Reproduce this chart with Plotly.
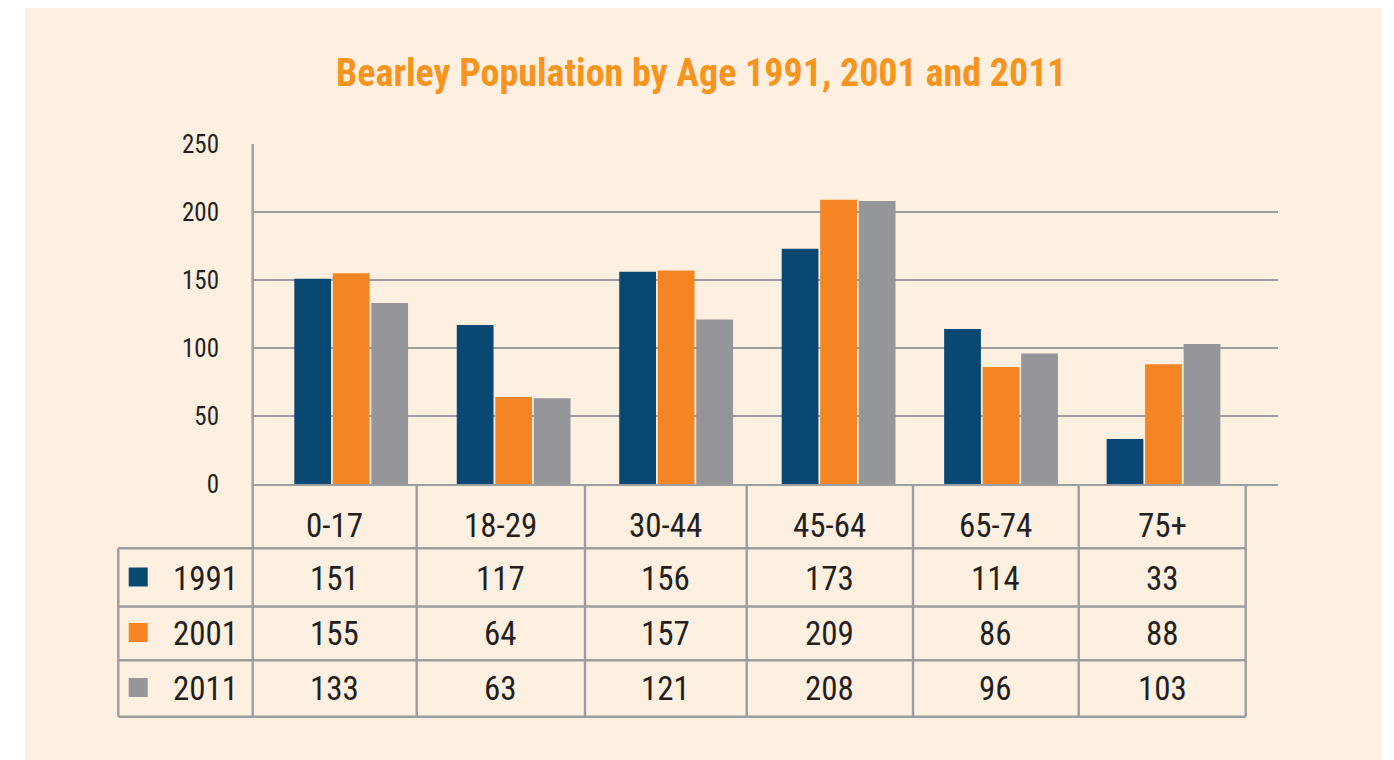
import plotly.graph_objects as go

# ---------------- data ----------------
age_groups = ["0-17", "18-29", "30-44", "45-64", "65-74", "75+"]
years = ["1991", "2001", "2011"]
pop_1991 = [151, 117, 156, 173, 114, 33]
pop_2001 = [155, 64, 157, 209, 86, 88]
pop_2011 = [133, 63, 121, 208, 96, 103]
y_ticks = [0, 50, 100, 150, 200, 250]
title_text = "Bearley Population by Age 1991, 2001 and 2011"

series = [pop_1991, pop_2001, pop_2011]
colors = ["#084872", "#F58522", "#959699"]

# ---------------- layout geometry (reference-window pixels) ----------------
REF_W, REF_H = 1394, 760
OFF = 8                                   # page body margin
W, H = REF_W - OFF, REF_H - OFF
PL, PR, PT, PB = 253, 1278, 144, 484      # plot area in window pixels
FONT = "Roboto Condensed, Liberation Sans Narrow, DejaVu Sans Condensed, Roboto, sans-serif"
TXT = "#231F20"
GRID = "#9B9DA0"

def xp(px):
    return (px - PL) / (PR - PL)

def yp(py):
    return (PB - py) / (PB - PT)

fig = go.Figure()
xs = list(range(len(age_groups)))
for yr, vals, col in zip(years, series, colors):
    fig.add_trace(go.Bar(x=xs, y=vals, name=yr, marker=dict(color=col, line=dict(width=0)),
                         hoverinfo="y", showlegend=False))

shapes = []
# cream panel
shapes.append(dict(type="rect", xref="paper", yref="paper", x0=xp(25), x1=xp(1382), y0=yp(0), y1=yp(REF_H + 5),
                   fillcolor="#FDF0E1", line=dict(width=0), layer="below"))

# table geometry
col_edges = [252.7, 416.7, 585, 746.7, 913, 1078.7, 1245.7]
row_edges = [484, 548.3, 606.5, 660.3, 716.7]
left_edge = 118.3
lw = 2.4

def hline(y, x0, x1):
    shapes.append(dict(type="line", xref="paper", yref="paper", x0=xp(x0), x1=xp(x1), y0=yp(y), y1=yp(y),
                       line=dict(color=GRID, width=lw), layer="above"))

def vline(x, y0, y1):
    shapes.append(dict(type="line", xref="paper", yref="paper", x0=xp(x), x1=xp(x), y0=yp(y0), y1=yp(y1),
                       line=dict(color=GRID, width=lw), layer="above"))

for ry in row_edges[1:]:
    hline(ry, left_edge, col_edges[-1])
vline(left_edge, row_edges[1], row_edges[-1])
vline(col_edges[0], PT, row_edges[-1])
for cx in col_edges[1:]:
    vline(cx, row_edges[0] + 1, row_edges[-1])

annotations = []
# title
annotations.append(dict(text=f"<b>{title_text}</b>", xref="paper", yref="paper", x=xp(701), y=yp(73),
                        xanchor="center", yanchor="middle", showarrow=False,
                        font=dict(family=FONT, size=38, color="#F7941D")))

# header row (age groups)
col_centers = [(a + b) / 2 for a, b in zip(col_edges[:-1], col_edges[1:])]
for cx, lab in zip(col_centers, age_groups):
    annotations.append(dict(text=lab, xref="paper", yref="paper", x=xp(cx), y=yp(525),
                            xanchor="center", yanchor="middle", showarrow=False,
                            font=dict(family=FONT, size=33, color=TXT)))

row_centers = [578, 633.5, 688.5]
sq = 19
for rc, yr, vals, col in zip(row_centers, years, series, colors):
    shapes.append(dict(type="rect", xref="paper", yref="paper", x0=xp(128.7), x1=xp(128.7 + sq),
                       y0=yp(rc - sq / 2 - 1), y1=yp(rc + sq / 2 - 1), fillcolor=col, line=dict(width=0)))
    annotations.append(dict(text=yr, xref="paper", yref="paper", x=xp(171), y=yp(rc),
                            xanchor="left", yanchor="middle", showarrow=False,
                            font=dict(family=FONT, size=33, color=TXT)))
    for cx, v in zip(col_centers, vals):
        annotations.append(dict(text=str(v), xref="paper", yref="paper", x=xp(cx), y=yp(rc),
                                xanchor="center", yanchor="middle", showarrow=False,
                                font=dict(family=FONT, size=33, color=TXT)))

# x range so that group centres land where the reference puts them
c0, c5 = 351.2, 1163.5
step = (c5 - c0) / 5
xmin = (PL - c0) / step
xmax = (PR - c0) / step

fig.update_layout(
    width=W, height=H,
    margin=dict(l=PL - OFF, r=REF_W - PR, t=PT - OFF, b=REF_H - PB, pad=0),
    paper_bgcolor="white", plot_bgcolor="rgba(0,0,0,0)",
    barmode="group", bargap=0.289, bargroupgap=0.045,
    shapes=shapes, annotations=annotations,
    xaxis=dict(range=[xmin, xmax], showticklabels=False, showgrid=False, zeroline=False,
               showline=True, linecolor=GRID, linewidth=lw, ticks="", fixedrange=True),
    yaxis=dict(range=[0, 250], tickvals=y_ticks, showgrid=True, gridcolor=GRID, gridwidth=lw,
               zeroline=False, showline=False, ticks="", ticklabelstandoff=33,
               tickfont=dict(family=FONT, size=25, color=TXT), fixedrange=True),
)

fig.write_html("out.html")
